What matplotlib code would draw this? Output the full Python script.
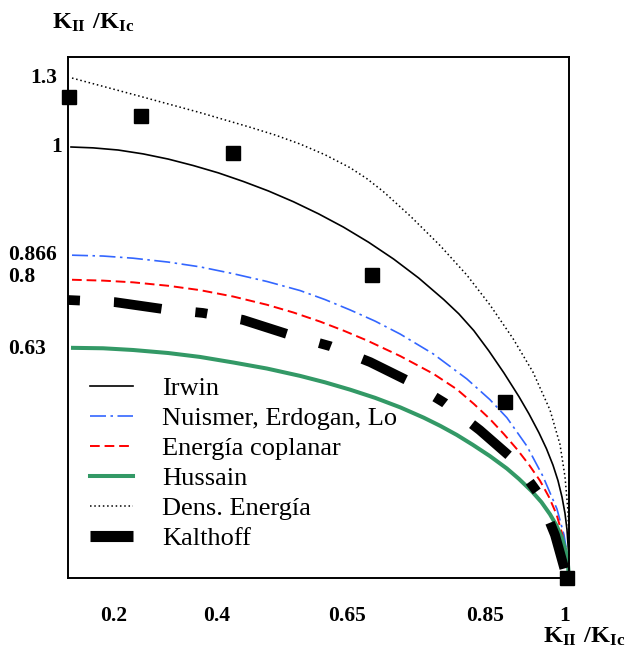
import matplotlib
matplotlib.use("Agg")
import matplotlib.pyplot as plt
from matplotlib.lines import Line2D

plt.rcParams['font.family'] = ['Liberation Serif', 'DejaVu Serif']
plt.rcParams['mathtext.fontset'] = 'custom'
plt.rcParams['mathtext.rm'] = 'Liberation Serif'
plt.rcParams['mathtext.bf'] = 'Liberation Serif:bold'

# curves (x: box width = 1, y: Irwin start = 1)
irwin_x = [0.006, 0.05, 0.1, 0.15, 0.2, 0.25, 0.3, 0.35, 0.4, 0.45, 0.5, 0.55, 0.6, 0.65, 0.7, 0.75, 0.78, 0.81,
           0.84, 0.87, 0.9, 0.92, 0.94, 0.955, 0.968, 0.978, 0.986, 0.992, 0.996, 0.999, 1.0]
irwin_y = [1.0, 0.998, 0.993, 0.984, 0.972, 0.957, 0.940, 0.920, 0.898, 0.873, 0.845, 0.814, 0.779, 0.740, 0.696, 0.646, 0.613, 0.574,
           0.527, 0.476, 0.421, 0.381, 0.337, 0.300, 0.262, 0.226, 0.188, 0.150, 0.112, 0.060, 0.0]

nuismer_x = [0.008, 0.07, 0.13, 0.2, 0.263, 0.33, 0.397, 0.463, 0.513, 0.563, 0.613, 0.663, 0.729, 0.796, 0.842, 0.876, 0.916, 0.948, 0.976, 0.99, 0.997, 1.0]
nuismer_y = [0.749, 0.747, 0.742, 0.733, 0.722, 0.706, 0.688, 0.667, 0.646, 0.622, 0.596, 0.566, 0.520, 0.462, 0.414, 0.372, 0.306, 0.236, 0.160, 0.100, 0.050, 0.0]

coplanar_x = [0.008, 0.07, 0.13, 0.2, 0.263, 0.33, 0.397, 0.45, 0.503, 0.55, 0.597, 0.663, 0.729, 0.776, 0.81, 0.842, 0.87, 0.896, 0.92, 0.942, 0.96, 0.975, 0.987, 0.995, 0.998]
coplanar_y = [0.692, 0.690, 0.686, 0.678, 0.668, 0.653, 0.634, 0.616, 0.595, 0.574, 0.551, 0.515, 0.474, 0.438, 0.404, 0.369, 0.334, 0.299, 0.263, 0.226, 0.188, 0.148, 0.100, 0.050, 0.0]

hussain_x = [0.01, 0.07, 0.13, 0.2, 0.263, 0.33, 0.397, 0.463, 0.513, 0.563, 0.613, 0.663, 0.71, 0.743, 0.776, 0.808, 0.842, 0.876, 0.9, 0.926, 0.945, 0.962, 0.975, 0.986, 0.994, 0.998, 1.0]
hussain_y = [0.534, 0.533, 0.529, 0.522, 0.513, 0.500, 0.486, 0.469, 0.454, 0.437, 0.418, 0.396, 0.372, 0.353, 0.332, 0.309, 0.283, 0.254, 0.230, 0.201, 0.176, 0.148, 0.122, 0.093, 0.060, 0.030, 0.0]

dens_x = [0.008, 0.13, 0.263, 0.363, 0.413, 0.463, 0.513, 0.563, 0.596, 0.629, 0.683, 0.743, 0.796, 0.842, 0.888, 0.928, 0.962, 0.982, 0.992, 0.998, 1.0, 1.0]
dens_y = [1.160, 1.122, 1.080, 1.046, 1.028, 1.007, 0.982, 0.952, 0.927, 0.897, 0.840, 0.771, 0.703, 0.634, 0.556, 0.478, 0.390, 0.310, 0.235, 0.155, 0.075, 0.0]

kalthoff_x = [0.0, 0.094, 0.190, 0.269, 0.349, 0.443, 0.523, 0.603, 0.683, 0.752, 0.822, 0.890, 0.938, 0.972, 0.996]
kalthoff_y = [0.645, 0.640, 0.624, 0.615, 0.599, 0.564, 0.538, 0.501, 0.455, 0.406, 0.343, 0.274, 0.197, 0.100, 0.0]

points_x = [0.002, 0.146, 0.329, 0.607, 0.872, 0.996]
points_y = [1.116, 1.072, 0.986, 0.703, 0.408, 0.0]

series_labels = ['Irwin', 'Nuismer, Erdogan, Lo', 'Energía coplanar', 'Hussain', 'Dens. Energía', 'Kalthoff']

ytick_pos = [1.16, 1.0, 0.749, 0.698, 0.531]
ytick_labels = ['1.3', '1', '0.866', '0.8', '0.63']
xtick_pos = [0.092, 0.297, 0.557, 0.832, 0.992]
xtick_labels = ['0.2', '0.4', '0.65', '0.85', '1']

fig = plt.figure(figsize=(6.27, 6.57), dpi=100)
ax = fig.add_axes([68/627, 1 - 578/657, 501/627, 521/657])

l1, = ax.plot(irwin_x, irwin_y, color='black', lw=1.2, clip_on=False)
l2, = ax.plot(nuismer_x, nuismer_y, color='#3366FF', lw=1.2, linestyle=(0, (9.6, 2.7, 1.5, 2.7)), clip_on=False)
l3, = ax.plot(coplanar_x, coplanar_y, color='#FF0000', lw=1.4, linestyle=(0, (5, 2.5)), clip_on=False)
l4, = ax.plot(hussain_x, hussain_y, color='#339966', lw=2.9, clip_on=False)
l5, = ax.plot(dens_x, dens_y, color='black', lw=1.1, linestyle=(0, (1, 1.8)), clip_on=False)
ax.plot(kalthoff_x, kalthoff_y, color='black', lw=7, linestyle=(0, (1.23, 3.5, 4.94, 3.5)), clip_on=False)
ax.plot(points_x, points_y, 's', color='black', ms=10, clip_on=False)

ax.set_xlim(0, 1)
ax.set_ylim(0, 521/431)
ax.set_xticks([])
ax.set_yticks([])
for sp in ax.spines.values():
    sp.set_linewidth(1.4)

for v, lab in zip(ytick_pos, ytick_labels):
    if lab in ('0.8', '0.63'):
        off, ha = -43, 'left'
    elif lab == '1':
        off, ha = -4.5, 'right'
    else:
        off, ha = -8, 'right'
    ax.annotate(lab, xy=(0, v), xycoords=('axes fraction', 'data'), xytext=(off, 0),
                textcoords='offset points', ha=ha, va='center', fontsize=15.5, fontweight='bold')

for v, lab in zip(xtick_pos, xtick_labels):
    ax.annotate(lab, xy=(v, 0), xycoords=('data', 'axes fraction'), xytext=(0, -27.5),
                textcoords='offset points', ha='center', va='center', fontsize=15.5, fontweight='bold')

label = r'$\mathbf{K_{II}\ /K_{Ic}}$'
fig.text(52/627, 1 - 29/657, label, fontsize=17.5, ha='left', va='baseline')
fig.text(543/627, 1 - 643/657, label, fontsize=17.5, ha='left', va='baseline')

kal_handle = Line2D([], [], color='black', lw=8, solid_capstyle='butt')
ax.legend([l1, l2, l3, l4, l5, kal_handle], series_labels, loc='upper left',
          bbox_to_anchor=(0.044, 0.387), frameon=False, fontsize=19,
          handlelength=1.63, handletextpad=1.1, labelspacing=0.25,
          borderpad=0, borderaxespad=0)

fig.savefig('out.png', dpi=100)
